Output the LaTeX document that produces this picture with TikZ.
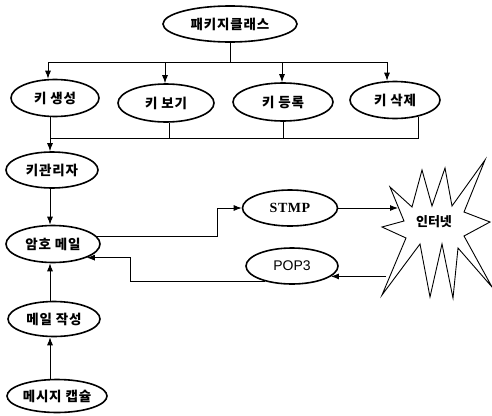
\documentclass[tikz,border=0pt]{standalone}
\usepackage{fontspec}
\newfontfamily\kr{Noto Sans CJK KR}[LetterSpace=6]
\newfontfamily\krtight{Noto Sans CJK KR}
\newfontfamily\lsans{Liberation Sans}
\newfontfamily\lserif{Liberation Serif}[LetterSpace=4]
\usetikzlibrary{arrows.meta,shapes.geometric}
\begin{document}
\begin{tikzpicture}[x=1pt,y=-1pt,
  ov/.style={ellipse,draw,line width=1.6pt,inner sep=0pt,font=\kr\bfseries\fontsize{13.5}{13.5}\selectfont},
  ln/.style={line width=0.9pt},
  arr/.style={ln,-{Latex[length=8pt,width=6pt]}},
  burst/.style={draw,line width=0.9pt,line join=miter}]
\useasboundingbox (0,0) rectangle (492,415);
% nodes
\node[ov,minimum width=134,minimum height=36] (pkg) at (230,24) {패키지클래스};
\node[ov,minimum width=88,minimum height=37] (kgen) at (55,98) {키 생성};
\node[ov,minimum width=96,minimum height=38] (kview) at (166,103) {키 보기};
\node[ov,minimum width=100,minimum height=38] (kreg) at (283,102) {키 등록};
\node[ov,minimum width=90,minimum height=37] (kdel) at (395,100) {키 삭제};
\node[ov,minimum width=92,minimum height=36] (kmgr) at (52,170) {키관리자};
\node[ov,minimum width=94,minimum height=37] (enc) at (53,244) {암호 메일};
\node[ov,minimum width=92,minimum height=35] (write) at (54,319) {메일 작성};
\node[ov,minimum width=100,minimum height=33] (cap) at (57,396) {메시지 캡슐};
\node[ov,minimum width=95,minimum height=36,font=\lserif\bfseries\fontsize{14}{14}\selectfont] (stmp) at (290,208) {STMP};
\node[ov,minimum width=92,minimum height=36,font=\lsans\fontsize{14}{14}\selectfont] (pop) at (292,266) {POP3};
% starburst
\draw[burst] (382,227) -- (404,221) -- (390,187) -- (412,207) -- (422,170) -- (432,206)
  -- (445,168) -- (452,206) -- (485,160) -- (464,212) -- (490,222) -- (464,236)
  -- (492,287) -- (458,248) -- (453,298) -- (442,244) -- (430,297) -- (420,244)
  -- (382,295) -- (406,238) -- cycle;
\node[font=\krtight\bfseries\fontsize{13}{13}\selectfont] (inet) at (434,222) {인터넷};
% coordinates
\coordinate (t1) at (48,62);
\coordinate (t2) at (165,62);
\coordinate (t3) at (282,62);
\coordinate (t4) at (387,62);
\coordinate (trunk) at (50,138);
\coordinate (c1) at (217,208);
\coordinate (c2) at (130,0);
\coordinate (inL) at (398,208);
\coordinate (outL) at (386,0);
% top tree
\draw[ln] (pkg.south) -- (pkg.south |- t1);
\draw[ln] (t1) -- (t4);
\draw[arr] (t1) -- (kgen.north -| t1);
\draw[arr] (t2) -- (kview.north -| t2);
\draw[arr] (t3) -- (kreg.north -| t3);
\draw[arr] (t4) -- (kdel.north -| t4);
% bottom bus
\draw[ln] (kview.-80) |- (trunk);
\draw[ln] (kreg.south) |- (trunk);
\draw[ln] (kdel.-36) |- (trunk);
\draw[arr] (kgen.south -| trunk) -- (kmgr.north -| trunk);
\draw[arr] (kmgr.south -| trunk) -- (enc.north -| trunk);
\draw[arr] (write.north -| trunk) -- (enc.south -| trunk);
\draw[arr] (cap.north -| trunk) -- (write.south -| trunk);
% mail paths
\draw[arr] (enc.10) -| (c1) -- (stmp.west);
\draw[arr] (stmp.east) -- (inL);
\draw[arr] (pop.-15 -| outL) -- (pop.-15);
\draw[arr] (pop.-150) -- (pop.-150 -| c2) |- (enc.-22);
\end{tikzpicture}
\end{document}
